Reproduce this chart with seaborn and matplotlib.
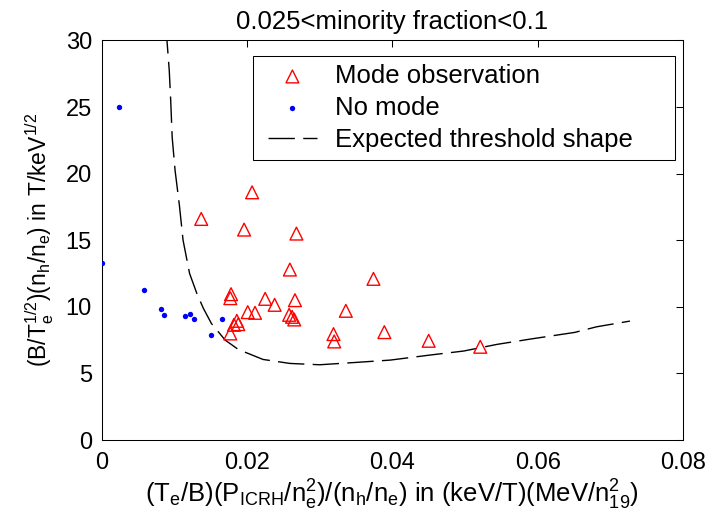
import numpy as np
import pandas as pd
import seaborn as sns
from matplotlib import pyplot as plt
from matplotlib.legend_handler import HandlerLine2D, HandlerPathCollection

# mode observed (red triangles)
mode_x = [0.0207, 0.0137, 0.0196, 0.0268, 0.0259, 0.0374, 0.0178, 0.0177, 0.0225, 0.0266,
          0.0238, 0.0201, 0.0211, 0.0336, 0.0258, 0.0265, 0.0262, 0.0186, 0.0188, 0.0182,
          0.0177, 0.0319, 0.0320, 0.0389, 0.0450, 0.0521]
mode_y = [18.6, 16.6, 15.8, 15.5, 12.8, 12.1, 10.95, 10.65, 10.6, 10.5,
          10.15, 9.6, 9.55, 9.7, 9.4, 9.05, 9.25, 8.95, 8.7, 8.65,
          8.0, 7.95, 7.4, 8.1, 7.45, 7.0]

# no mode (blue dots)
nomode_x = [0.0024, 0.0, 0.0058, 0.0082, 0.0086, 0.0114, 0.0122, 0.0127, 0.0150, 0.0165]
nomode_y = [25.0, 13.3, 11.3, 9.85, 9.4, 9.3, 9.45, 9.1, 7.9, 9.1]

# expected threshold shape (dashed)
thr_x = [0.0089, 0.0090, 0.0093, 0.0095, 0.0097, 0.0101, 0.0107, 0.0112, 0.0121, 0.0131,
         0.0140, 0.0151, 0.0170, 0.0188, 0.0222, 0.0259, 0.0300, 0.0351, 0.0397, 0.0452,
         0.0498, 0.0544, 0.0590, 0.0651, 0.0681, 0.0727]
thr_y = [31.0, 29.9, 27.75, 25.5, 22.75, 20.25, 17.6, 15.0, 12.5, 11.0,
         9.88, 8.75, 7.5, 6.8, 6.05, 5.75, 5.65, 5.83, 6.0, 6.38,
         6.68, 7.18, 7.58, 8.08, 8.5, 8.93]

mode_df = pd.DataFrame({"x": mode_x, "y": mode_y})
nomode_df = pd.DataFrame({"x": nomode_x, "y": nomode_y})
thr_df = pd.DataFrame({"x": thr_x, "y": thr_y})


# legend handles sit a bit further in from the frame, like the original
class ShiftedLine(HandlerLine2D):
    def create_artists(self, legend, orig_handle, xdescent, ydescent, width, height, fontsize, trans):
        s = 0.28 * fontsize
        return super().create_artists(legend, orig_handle, xdescent - s, ydescent,
                                      width - s, height, fontsize, trans)


class ShiftedPoints(HandlerPathCollection):
    def create_artists(self, legend, orig_handle, xdescent, ydescent, width, height, fontsize, trans):
        s = 0.28 * fontsize
        return super().create_artists(legend, orig_handle, xdescent - s, ydescent,
                                      width - s, height, fontsize, trans)


sns.set_style("white")
plt.rcParams['font.family'] = ['Liberation Sans', 'DejaVu Sans']
plt.rcParams['mathtext.default'] = 'regular'
plt.rcParams['font.size'] = 17
plt.rcParams['text.color'] = 'black'
plt.rcParams['axes.labelcolor'] = 'black'

fig = plt.figure(figsize=(7.1, 5.19), dpi=100)
ax = fig.add_axes([0.1432, 0.1522, 0.8188, 0.7698])

pts_mode = sns.scatterplot(data=mode_df, x="x", y="y", ax=ax, marker="^", s=85,
                           facecolor="none", edgecolor="red", linewidth=1.0,
                           label="Mode observation", zorder=3).collections[-1]
pts_none = sns.scatterplot(data=nomode_df, x="x", y="y", ax=ax, marker="o", s=15,
                           color="blue", edgecolor="blue", linewidth=0,
                           label="No mode", zorder=3).collections[-1]
sns.lineplot(data=thr_df, x="x", y="y", ax=ax, sort=False, estimator=None,
             color="black", linewidth=1.0, label="Expected threshold shape", zorder=2)
thr_line = ax.lines[-1]
thr_line.set_dashes((19, 6))

ax.set_xlim(0, 0.08)
ax.set_ylim(0, 30)
ax.set_xticks([0, 0.02, 0.04, 0.06, 0.08])
ax.set_xticklabels(["0", "0.02", "0.04", "0.06", "0.08"])
ax.set_yticks([0, 5, 10, 15, 20, 25, 30])

ax.tick_params(direction="in", length=5, width=0.75, top=True, right=True,
               labelsize=17, colors="black")
ax.tick_params(axis="x", pad=8.5)
ax.tick_params(axis="y", pad=7)
for sp in ax.spines.values():
    sp.set_visible(True)
    sp.set_linewidth(0.75)
    sp.set_color("black")

ax.set_title("0.025<minority fraction<0.1", fontsize=18.5, pad=8.3, color="black")
ax.set_xlabel("(T$_e$/B)(P$_{ICRH}$/n$_e^2$)/(n$_h$/n$_e$) in (keV/T)(MeV/n$_{19}^2$)",
              fontsize=18.5, labelpad=3, color="black")
ax.set_ylabel("(B/T$_e^{1/2}$)(n$_h$/n$_e$) in T/keV$^{1/2}$", fontsize=16.5, labelpad=7,
              color="black")

leg = ax.legend(handles=[pts_mode, pts_none, thr_line],
                labels=["Mode observation", "No mode", "Expected threshold shape"],
                handler_map={type(thr_line): ShiftedLine(), type(pts_mode): ShiftedPoints()},
                loc="upper left", bbox_to_anchor=(0.2598, 0.0, 0.7264, 0.9612), mode="expand",
                fontsize=18.5, frameon=True, fancybox=False, framealpha=1, edgecolor="black",
                handlelength=2.17, handletextpad=0.7, labelspacing=0.3,
                borderpad=0.32, borderaxespad=0, scatterpoints=1)
leg.get_frame().set_linewidth(0.75)
for t in leg.get_texts():
    t.set_color("black")

fig.savefig("out.png", dpi=100)
